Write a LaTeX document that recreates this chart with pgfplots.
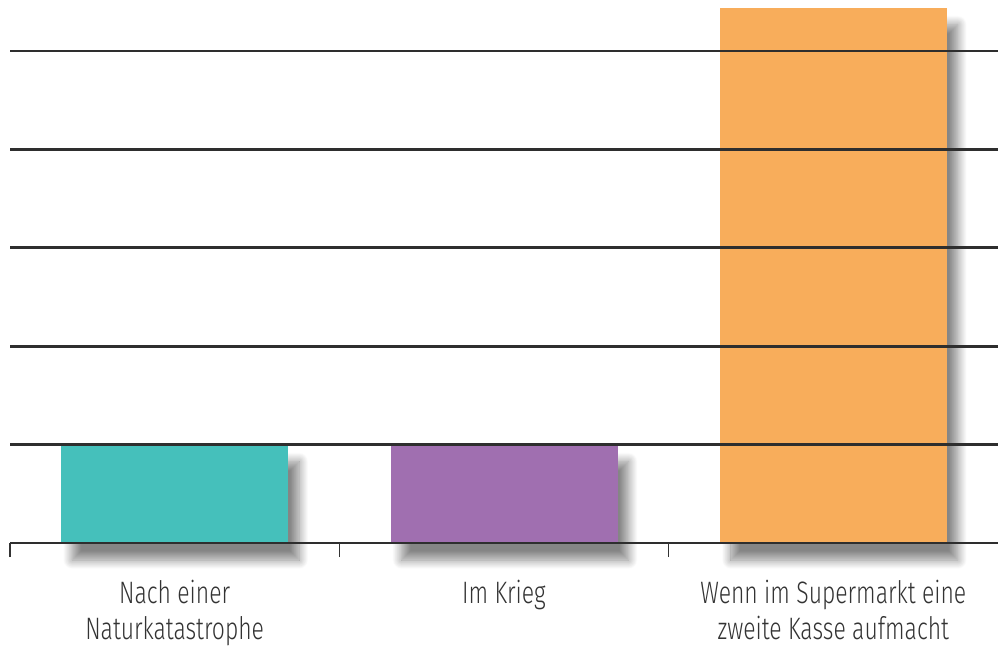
\documentclass[border=0pt]{standalone}
\usepackage{fontspec}
\setmainfont{Fira Sans}[UprightFont={* Light}, FakeStretch=0.74]
\usepackage{pgfplots}
\pgfplotsset{compat=1.18}
\usetikzlibrary{shadows.blur}
\definecolor{cteal}{HTML}{45C0BB}
\definecolor{cpurple}{HTML}{A06FB0}
\definecolor{corange}{HTML}{F8AD5B}
\definecolor{cline}{HTML}{2E2E2E}
\definecolor{ctext}{HTML}{333333}
\begin{document}
\begin{tikzpicture}
\begin{axis}[
  scale only axis,
  width=988pt, height=543pt,
  xmin=-0.5, xmax=2.5,
  ymin=0, ymax=5.518,
  clip=false,
  axis on top,
  axis x line*=bottom,
  axis y line*=left,
  y axis line style={draw=none},
  x axis line style={cline, line width=2.8pt, shorten >=-2pt},
  ytick={1,2,3,4,5},
  yticklabels={},
  ymajorgrids,
  grid style={cline, line width=2.8pt},
  y tick style={draw=none},
  xtick={0,1,2},
  xticklabels={Nach einer\\Naturkatastrophe, Im Krieg, Wenn im Supermarkt eine\\zweite Kasse aufmacht},
  xticklabel style={align=center, text=ctext, font=\fontsize{31}{36}\selectfont, yshift=-29pt},
  x tick style={draw=none},
  extra x ticks={-0.5,0.5,1.5},
  extra x tick labels={},
  extra x tick style={x tick style={draw=ctext, line width=1.6pt}, major tick length=14pt, tick align=outside, xmajorgrids=false},
  ybar,
  bar width=227pt,
  every axis plot/.append style={bar shift=0pt, draw=none,
    blur shadow={shadow xshift=11pt, shadow yshift=-17pt, shadow blur radius=9pt, shadow blur steps=14, shadow opacity=48}},
]
\addplot[fill=cteal] coordinates {(0,1)};
\addplot[fill=cpurple] coordinates {(1,1)};
\addplot[fill=corange] coordinates {(2,5.44)};
\end{axis}
\pgfresetboundingbox
\path (-10pt,-107pt) rectangle (988pt,543pt);
\end{tikzpicture}
\end{document}
